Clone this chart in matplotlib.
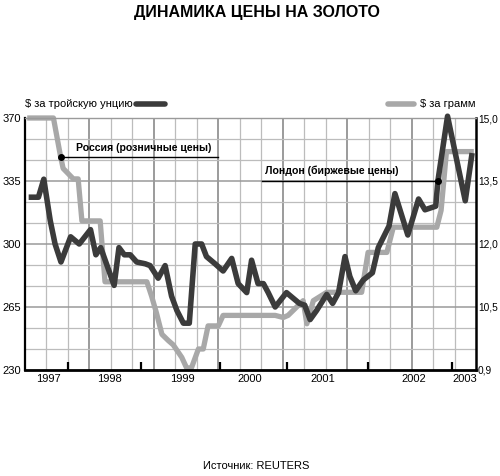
import matplotlib
matplotlib.use('Agg')
import matplotlib.pyplot as plt
from matplotlib.lines import Line2D

plt.rcParams['font.family'] = ['Liberation Sans', 'DejaVu Sans']

# months since start of 1997 (axis spans 84 months)
dark_m = [1.2, 2.5, 3.5, 4.7, 5.6, 6.7, 8.5, 10.1, 12.2, 13.2, 14.1, 16.6, 17.5, 18.5,
          19.6, 20.8, 22.4, 23.3, 24.8, 26.1, 27.3, 28.3, 29.5, 30.6, 31.7, 32.9, 33.8,
          35.4, 36.9, 38.5, 39.7, 41.3, 42.2, 43.4, 44.4, 45.3, 46.6, 48.7, 51.1, 52.1,
          53.1, 54.3, 56.2, 57.3, 58.4, 59.6, 60.5, 61.6, 63.0, 64.7, 65.8, 67.8, 68.9,
          71.3, 73.3, 74.5, 76.5, 76.9, 78.7, 82.0, 83.2]
# London, $ per troy ounce
dark_v = [326, 326, 336, 313, 300, 290, 304, 300, 308, 294, 298, 277, 298, 294,
          294, 290, 289, 288, 281, 288, 271, 263, 256, 256, 300, 300, 293,
          289, 285, 292, 278, 273, 291, 278, 278, 273, 265, 273, 267, 266,
          258, 263, 272, 267, 273, 293, 282, 274, 280, 284, 298, 310, 328,
          305, 325, 319, 321, 335, 371, 324, 349]

grey_m = [0.9, 5.3, 6.6, 7.1, 9.0, 9.9, 10.6, 14.0, 14.9, 22.7, 23.6, 24.5, 25.5, 26.7,
          27.6, 29.2, 30.1, 31.0, 32.3, 33.2, 34.1, 36.0, 36.9, 38.5, 46.6, 48.1, 49.0,
          50.6, 51.8, 52.5, 53.7, 56.2, 62.7, 63.9, 67.4, 68.6, 76.7, 77.5, 78.5, 83.1]
# Russia, $ per gram
grey_v = [15.0, 15.0, 14.1, 13.8, 13.55, 13.55, 12.55, 12.55, 11.1, 11.1, 10.75, 10.35, 9.85, 9.7,
          9.6, 9.3, 9.05, 9.05, 9.5, 9.5, 10.05, 10.05, 10.3, 10.3, 10.3, 10.25, 10.3,
          10.5, 10.65, 10.1, 10.65, 10.85, 10.85, 11.8, 11.8, 12.4, 12.4, 12.8, 14.2, 14.2]

years = ['1997', '1998', '1999', '2000', '2001', '2002', '2003']
year_pos = [4.3, 15.8, 29.4, 41.9, 55.5, 72.4, 81.9]
tick_pos = [8.0, 21.6, 36.3, 48.8, 63.9, 79.5]

left_ticks = [230, 265, 300, 335, 370]
right_ticks = [9.0, 10.5, 12.0, 13.5, 15.0]
right_labels = ['0,9', '10,5', '12,0', '13,5', '15,0']

DARK = '#3b3b3b'
GREY = '#a8a8a8'

fig = plt.figure(figsize=(5, 4.76), dpi=100)
ax = fig.add_axes([0.05, 0.2227, 0.902, 0.5294])
ax2 = ax.twinx()
ax.set_zorder(2)
ax2.set_zorder(1)
ax.patch.set_visible(False)

ax.set_xlim(0, 84)
ax.set_ylim(230, 370)
ax2.set_ylim(9, 15)

# grid drawn on the lower axes
for k in range(1, 21):
    if k % 3 == 0:
        ax2.axvline(4 * k, color='#8a8a8a', lw=1.2, zorder=0)
    else:
        ax2.axvline(4 * k, color='#bcbcbc', lw=0.9, zorder=0)
for j in range(1, 13):
    y = 9 + 0.5 * j
    if j % 3 == 0:
        ax2.axhline(y, color='#9a9a9a', lw=1.1, zorder=0)
    else:
        ax2.axhline(y, color='#bcbcbc', lw=0.9, zorder=0)

ax2.plot(grey_m, grey_v, color=GREY, lw=3.8, clip_on=False, zorder=2)
ax.plot(dark_m, dark_v, color=DARK, lw=4.0, clip_on=False, zorder=3)

# annotations
ax2.plot([grey_m[2] + 0.05, 35.9], [14.08, 14.08], color='black', lw=1.0, zorder=4)
ax2.plot([grey_m[2] + 0.05], [14.08], 'o', color='black', ms=4, zorder=5)
ax.text(9.5, 350.3, 'Россия (розничные цены)', fontsize=7.6, fontweight='bold',
        ha='left', va='bottom', zorder=6)
ax.plot([44.1, dark_m[57]], [dark_v[57], dark_v[57]], color='black', lw=1.0, zorder=4)
ax.plot([dark_m[57]], [dark_v[57]], 'o', color='black', ms=4, zorder=5)
ax.text(44.7, 337.6, 'Лондон (биржевые цены)', fontsize=7.6, fontweight='bold',
        ha='left', va='bottom', zorder=6)

# axes styling
for s in ax2.spines.values():
    s.set_visible(False)
ax.spines['top'].set_color('#9a9a9a')
ax.spines['top'].set_linewidth(1.0)
ax.spines['left'].set_linewidth(1.6)
ax.spines['bottom'].set_linewidth(2.0)
ax.spines['right'].set_linewidth(1.8)

ax.set_yticks(left_ticks)
ax.set_yticklabels([str(t) for t in left_ticks])
ax.tick_params(axis='y', length=0, pad=3, labelsize=8)
ax2.set_yticks(right_ticks)
ax2.set_yticklabels(right_labels)
ax2.tick_params(axis='y', length=0, pad=1.5, labelsize=7.3)

ax.set_xticks(tick_pos)
ax.set_xticklabels([''] * len(tick_pos))
ax.tick_params(axis='x', which='major', direction='in', length=5.5, width=1.6, color='black')
ax.set_xticks(year_pos, minor=True)
ax.set_xticklabels(years, minor=True)
ax.tick_params(axis='x', which='minor', length=0, pad=3, labelsize=8)

# legend marks
fig.text(0.05, 0.7815, '$ за тройскую унцию', fontsize=8, ha='left', va='center')
fig.add_artist(Line2D([0.272, 0.33], [0.7815, 0.7815], color=DARK, lw=4,
                      transform=fig.transFigure, solid_capstyle='round'))
fig.add_artist(Line2D([0.776, 0.828], [0.7815, 0.7815], color=GREY, lw=4,
                      transform=fig.transFigure, solid_capstyle='round'))
fig.text(0.84, 0.7815, '$ за грамм', fontsize=8, ha='left', va='center')

fig.text(0.513, 0.973, 'ДИНАМИКА ЦЕНЫ НА ЗОЛОТО', fontsize=11.5, fontweight='bold',
         ha='center', va='center')
fig.text(0.513, 0.022, 'Источник: REUTERS', fontsize=8, ha='center', va='center')

fig.savefig('out.png', dpi=100, facecolor='white')
